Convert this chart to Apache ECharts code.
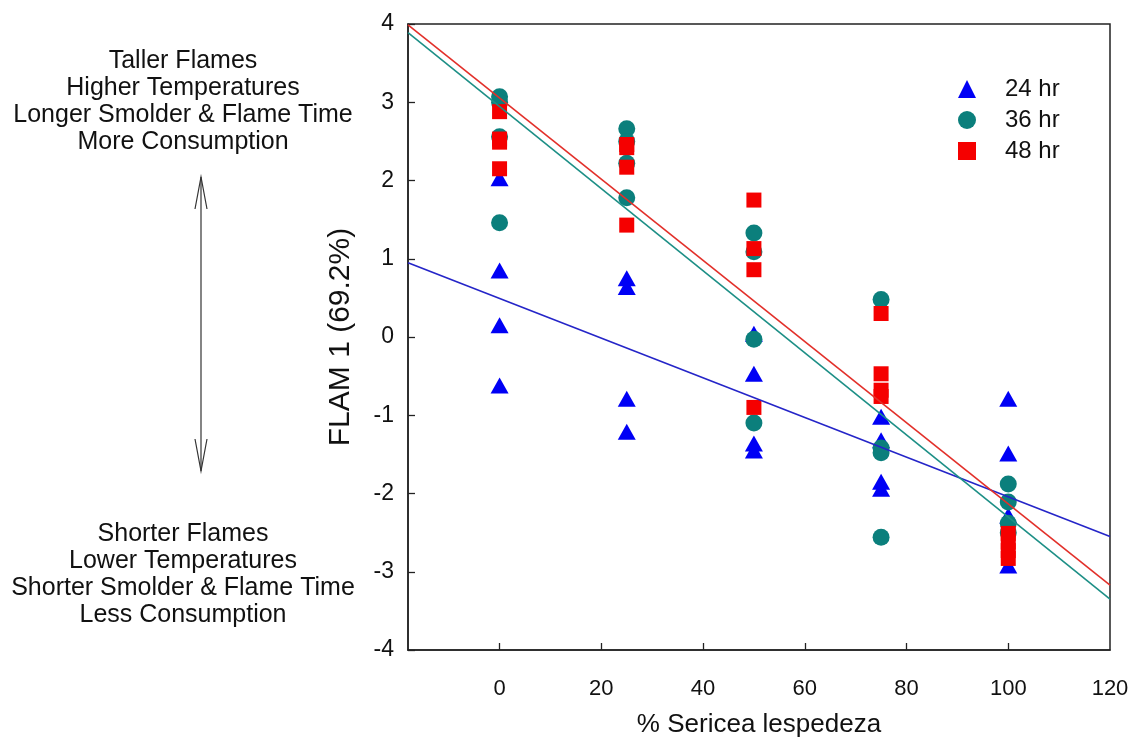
<!DOCTYPE html>
<html>
<head>
<meta charset="utf-8">
<script src="https://cdn.jsdelivr.net/npm/echarts@6/dist/echarts.min.js"></script>
<style>
  html, body { margin: 0; padding: 0; background: #fff; }
  #chart { width: 1135px; height: 747px; }
</style>
</head>
<body>
<div id="chart"></div>
<script>
// FLAM 1 scores by % Sericea lespedeza, for each drying time
const hr24 = [
  [0, 2.03], [0, 0.85], [0, 0.15], [0, -0.62],
  [25, 0.75], [25, 0.64], [25, -0.79], [25, -1.21],
  [50, 0.04], [50, -0.47], [50, -1.36], [50, -1.45],
  [75, -1.02], [75, -1.32], [75, -1.85], [75, -1.94],
  [100, -0.79], [100, -1.49], [100, -2.28], [100, -2.92]
];
const hr36 = [
  [0, 3.07], [0, 3.00], [0, 2.56], [0, 1.46],
  [25, 2.66], [25, 2.50], [25, 2.22], [25, 1.78],
  [50, 1.33], [50, 1.09], [50, -0.03], [50, -1.10],
  [75, 0.48], [75, -1.42], [75, -1.48], [75, -2.56],
  [100, -1.88], [100, -2.11], [100, -2.38], [100, -2.50]
];
const hr48 = [
  [0, 2.88], [0, 2.53], [0, 2.49], [0, 2.15],
  [25, 2.46], [25, 2.42], [25, 2.17], [25, 1.43],
  [50, 1.75], [50, 1.13], [50, 0.86], [50, -0.90],
  [75, 0.30], [75, -0.47], [75, -0.68], [75, -0.76],
  [100, -2.51], [100, -2.62], [100, -2.73], [100, -2.83]
];

// Fitted regression lines, end to end across the x range
const fit24 = [[-18, 0.95], [120, -2.55]];
const fit36 = [[-18, 3.89], [120, -3.35]];
const fit48 = [[-18, 3.99], [120, -3.17]];

const seriesNames = ['24 hr', '36 hr', '48 hr'];
const xTickValues = [0, 20, 40, 60, 80, 100];
const xLabelValues = [0, 20, 40, 60, 80, 100, 120];
const upperNotes = ['Taller Flames', 'Higher Temperatures', 'Longer Smolder & Flame Time', 'More Consumption'];
const lowerNotes = ['Shorter Flames', 'Lower Temperatures', 'Shorter Smolder & Flame Time', 'Less Consumption'];

const FONT = '"Liberation Sans", Arial, sans-serif';
const AXIS_COLOR = '#222';

const chart = echarts.init(document.getElementById('chart'), null, { renderer: 'canvas' });

const lineSeries = (data, color) => ({
  type: 'line',
  data: data,
  showSymbol: false,
  symbol: 'none',
  silent: true,
  z: 5,
  lineStyle: { color: color, width: 1.6 },
  clip: true
});

const option = {
  backgroundColor: '#fff',
  animation: false,
  textStyle: { fontFamily: FONT },
  grid: {
    left: 408, right: 25, top: 24, bottom: 97,
    show: true, borderColor: AXIS_COLOR, borderWidth: 1.5, backgroundColor: 'transparent'
  },
  legend: {
    data: seriesNames,
    orient: 'vertical',
    left: 953, top: 72,
    itemWidth: 18, itemHeight: 18, itemGap: 7,
    textStyle: { fontSize: 24, color: '#111', fontFamily: FONT, padding: [0, 0, 0, 24] },
    selectedMode: false
  },
  xAxis: {
    type: 'value',
    min: -18, max: 120,
    name: '% Sericea lespedeza',
    nameLocation: 'middle',
    nameGap: 62,
    nameTextStyle: { fontSize: 26, color: '#111', fontFamily: FONT },
    axisLine: { show: true, onZero: false, lineStyle: { color: AXIS_COLOR, width: 1.5 } },
    axisTick: { show: true, inside: true, length: 7, customValues: xTickValues, lineStyle: { color: AXIS_COLOR, width: 1.3 } },
    axisLabel: { customValues: xLabelValues, fontSize: 22, color: '#111', margin: 28, fontFamily: FONT },
    splitLine: { show: false }
  },
  yAxis: {
    type: 'value',
    min: -4, max: 4, interval: 1,
    name: 'FLAM 1 (69.2%)',
    nameLocation: 'middle',
    nameGap: 52,
    nameRotate: 90,
    nameTextStyle: { fontSize: 30, color: '#111', fontFamily: FONT },
    axisLine: { show: true, onZero: false, lineStyle: { color: AXIS_COLOR, width: 1.5 } },
    axisTick: { show: true, inside: true, length: 7, lineStyle: { color: AXIS_COLOR, width: 1.3 } },
    axisLabel: { fontSize: 23, color: '#111', margin: 14, fontFamily: FONT },
    splitLine: { show: false }
  },
  series: [
    {
      name: '24 hr', type: 'scatter', data: hr24,
      symbol: 'triangle', symbolSize: [18, 16],
      itemStyle: { color: '#0000f5', opacity: 1 }, z: 2
    },
    {
      name: '36 hr', type: 'scatter', data: hr36,
      symbol: 'circle', symbolSize: 17,
      itemStyle: { color: '#0b7f7c', opacity: 1 }, z: 3
    },
    {
      name: '48 hr', type: 'scatter', data: hr48,
      symbol: 'rect', symbolSize: 15,
      itemStyle: { color: '#f50000', opacity: 1 }, z: 4
    },
    lineSeries(fit24, '#2525c8'),
    lineSeries(fit36, '#1d8f86'),
    lineSeries(fit48, '#e2302a')
  ],
  graphic: [
    {
      type: 'text',
      style: {
        x: 183, y: 48, text: upperNotes.join('\n'),
        fontSize: 25, lineHeight: 27, fontFamily: FONT, fill: '#111',
        align: 'center', verticalAlign: 'top'
      }
    },
    {
      type: 'text',
      style: {
        x: 183, y: 521, text: lowerNotes.join('\n'),
        fontSize: 25, lineHeight: 27, fontFamily: FONT, fill: '#111',
        align: 'center', verticalAlign: 'top'
      }
    },
    // double-headed arrow between the two descriptions
    {
      type: 'line',
      shape: { x1: 201, y1: 177, x2: 201, y2: 471 },
      style: { stroke: '#333', lineWidth: 1.2 }
    },
    {
      type: 'polyline',
      shape: { points: [[195, 209], [201, 177], [207, 209]] },
      style: { stroke: '#333', lineWidth: 1.2, fill: null }
    },
    {
      type: 'polyline',
      shape: { points: [[195, 439], [201, 471], [207, 439]] },
      style: { stroke: '#333', lineWidth: 1.2, fill: null }
    }
  ]
};

chart.setOption(option);
</script>
</body>
</html>
